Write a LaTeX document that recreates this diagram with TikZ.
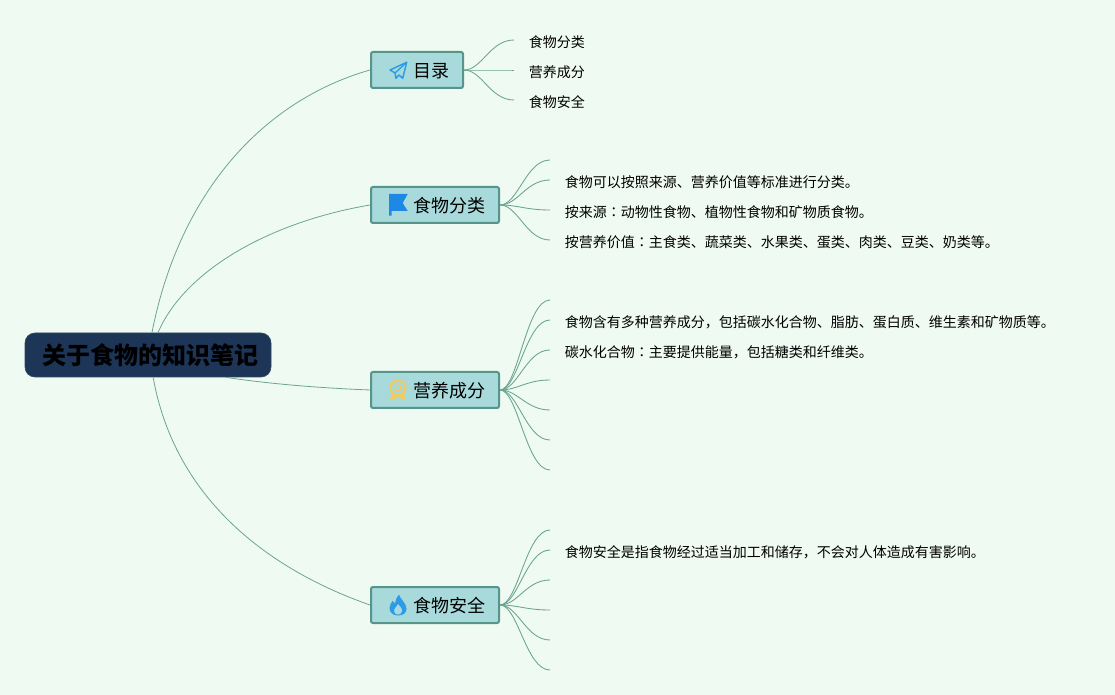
\documentclass[tikz,border=0pt]{standalone}
\usepackage{fontspec}
\setmainfont{Noto Sans CJK SC}
\newfontfamily\colonfont{Noto Sans CJK JP}
\usepackage{xcolor}
\usetikzlibrary{positioning}
\definecolor{paper}{HTML}{EFFAF2}
\definecolor{rootfill}{HTML}{1D3557}
\definecolor{branchfill}{HTML}{A8DADC}
\definecolor{branchedge}{HTML}{55958A}
\definecolor{wire}{HTML}{6BA58F}
\definecolor{iconblue}{HTML}{2E9BE6}
\definecolor{flagblue}{HTML}{1E88E5}
\definecolor{medal}{HTML}{EFCB62}
\tikzset{
  rootbox/.style={rectangle,rounded corners=7.5pt,fill=rootfill,draw=rootfill!80!wire,line width=.5pt,
    minimum width=184.5pt,minimum height=33pt,inner sep=0pt,text height=17.2pt,text depth=2.2pt,
    font=\fontsize{18}{20}\selectfont\bfseries,text=black},
  branchbox/.style={rectangle,rounded corners=1.5pt,fill=branchfill,draw=branchedge,line width=1.5pt,
    anchor=west,minimum height=27pt,inner ysep=0pt,inner xsep=10.5pt,text height=13.4pt,text depth=1.6pt,
    font=\fontsize{13.5}{16}\selectfont,text=black},
  leaf/.style={anchor=west,inner xsep=10.9pt,inner ysep=1pt,text height=12.2pt,text depth=1.6pt,
    font=\fontsize{10.5}{13}\selectfont,text=black},
  mainline/.style={draw=wire,line width=.6pt},
  subline/.style={draw=wire,line width=.65pt,to path={.. controls +(18,0) and +(-24,0) .. (\tikztotarget)}}
}
\newcommand{\iconroom}{\hspace*{21pt}}
\newcommand{\midcolon}{{\colonfont ：}}
\begin{document}
\begin{tikzpicture}[x=.75pt,y=-.75pt]
	\fill[paper] (0,0) rectangle (1115,695);
	\useasboundingbox (0,0) rectangle (1115,695);
	\node[rootbox] (root) at (148,355) {\hspace*{3.5pt}关于食物的知识笔记};
	\node[branchbox] (toc) at (370,70) {\iconroom 目录};
	\node[branchbox] (cat) at (370,205) {\iconroom 食物分类};
	\node[branchbox] (nut) at (370,390) {\iconroom 营养成分};
	\node[branchbox] (saf) at (370,605) {\iconroom 食物安全};
	% leaves of the contents
	\node[leaf] (toc1) at (514,40) {食物分类};
	\node[leaf] (toc2) at (514,70) {营养成分};
	\node[leaf] (toc3) at (514,100) {食物安全};
	% leaves of the food classes
	\coordinate (cat0) at (550,160);
	\node[leaf] (cat1) at (550,180) {食物可以按照来源、营养价值等标准进行分类。};
	\node[leaf] (cat2) at (550,210) {按来源\midcolon 动物性食物、植物性食物和矿物质食物。};
	\node[leaf] (cat3) at (550,240) {按营养价值\midcolon 主食类、蔬菜类、水果类、蛋类、肉类、豆类、奶类等。};
	% leaves of the nutrients
	\coordinate (nut0) at (550,300);
	\node[leaf] (nut1) at (550,320) {食物含有多种营养成分，包括碳水化合物、脂肪、蛋白质、维生素和矿物质等。};
	\node[leaf] (nut2) at (550,350) {碳水化合物\midcolon 主要提供能量，包括糖类和纤维类。};
	\coordinate (nut3) at (550,380);
	\coordinate (nut4) at (550,410);
	\coordinate (nut5) at (550,440);
	\coordinate (nut6) at (550,470);
	% leaves of food safety
	\coordinate (saf0) at (550,530);
	\node[leaf] (saf1) at (550,550) {食物安全是指食物经过适当加工和储存，不会对人体造成有害影响。};
	\coordinate (saf2) at (550,580);
	\coordinate (saf3) at (550,610);
	\coordinate (saf4) at (550,640);
	\coordinate (saf5) at (550,670);
	% root to branches
	\draw[mainline] (root.80) .. controls (180,190) and (265,100) .. (toc.west);
	\draw[mainline] (root.66) .. controls (185,270) and (270,222) .. (cat.west);
	\draw[mainline] (root.-16) .. controls (270,384) and (320,388) .. (nut.west);
	\draw[mainline] (root.-77) .. controls (175,500) and (270,570) .. (saf.west);
	% branches to leaves
	\draw[subline] (toc.east) to (toc1.west);
	\draw[subline] (toc.east) to (toc2.west);
	\draw[subline] (toc.east) to (toc3.west);
	\draw[subline] (cat.east) to (cat0);
	\draw[subline] (cat.east) to (cat1.west);
	\draw[subline] (cat.east) to (cat2.west);
	\draw[subline] (cat.east) to (cat3.west);
	\draw[subline] (nut.east) to (nut0);
	\draw[subline] (nut.east) to (nut1.west);
	\draw[subline] (nut.east) to (nut2.west);
	\draw[subline] (nut.east) to (nut3);
	\draw[subline] (nut.east) to (nut4);
	\draw[subline] (nut.east) to (nut5);
	\draw[subline] (nut.east) to (nut6);
	\draw[subline] (saf.east) to (saf0);
	\draw[subline] (saf.east) to (saf1.west);
	\draw[subline] (saf.east) to (saf2);
	\draw[subline] (saf.east) to (saf3);
	\draw[subline] (saf.east) to (saf4);
	\draw[subline] (saf.east) to (saf5);
	% icons
	\begin{scope}[shift={(398,70)}]
		\draw[iconblue,line width=1.1pt,line join=round] (8.7,-7.7) -- (-8,0) -- (-3,3) -- (-2,8.3) -- (1,5) -- (4.7,8.3) -- cycle;
		\draw[iconblue,line width=1pt] (8.7,-7.7) -- (-3,3);
	\end{scope}
	\begin{scope}[shift={(398,205)}]
		\fill[flagblue] (-9,-11) -- (9.7,-11) -- (4.7,-2) -- (9.7,6) -- (-6.5,6) -- (-6.5,10.7) -- (-9,10.7) -- cycle;
	\end{scope}
	\begin{scope}[shift={(398,390)}]
		\draw[medal,line width=1.7pt] (0,-2) circle (7.5);
		\draw[medal,line width=1pt] (0,-2) circle (3);
		\fill[medal] (-5,4) -- (-8.5,8) -- (-5,10.5) -- (-1,7) -- (1,7) -- (5,10.5) -- (8.5,8) -- (5,4) -- cycle;
		\fill[branchfill] (0,8) circle (1.5);
	\end{scope}
	\begin{scope}[shift={(398,605)}]
		\fill[iconblue] (0,10.5) .. controls (-5.5,10.5) and (-8.5,7) .. (-8.5,3) .. controls (-8.5,0) and (-6.5,-2) .. (-5.5,-4) .. controls (-4.5,-3) and (-4,-2) .. (-3,-1.5) .. controls (-3,-5) and (-1,-8) .. (1,-10.5) .. controls (2,-6) and (8.5,-2) .. (8.5,4) .. controls (8.5,8) and (5,10.5) .. (0,10.5) -- cycle;
		\fill[branchfill] (0,9.5) .. controls (-3,9.5) and (-4.5,7) .. (-3.5,4) .. controls (-2.5,2) and (-.5,1) .. (0,-1) .. controls (1,1) and (4.5,3) .. (4,6) .. controls (3.7,8.5) and (2,9.5) .. (0,9.5) -- cycle;
	\end{scope}
\end{tikzpicture}
\end{document}
